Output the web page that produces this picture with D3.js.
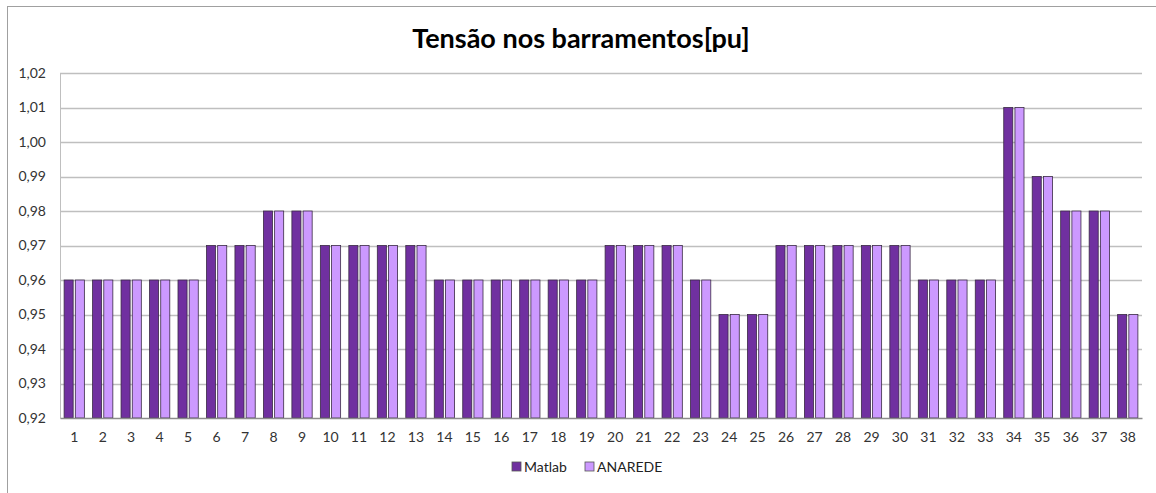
<!DOCTYPE html>
<html>
<head>
<meta charset="utf-8">
<script src="https://cdn.jsdelivr.net/npm/d3@7"></script>
<style>
  body { margin: 0; background: #fff; }
  svg { display: block; font-family: Lato, "Open Sans", sans-serif; }
</style>
</head>
<body>
<div id="graph"></div>
<script>
// Data
const buses = d3.range(1, 39).map(String);
const matlab = [0.96, 0.96, 0.96, 0.96, 0.96, 0.97, 0.97, 0.98, 0.98, 0.97,
  0.97, 0.97, 0.97, 0.96, 0.96, 0.96, 0.96, 0.96, 0.96, 0.97,
  0.97, 0.97, 0.96, 0.95, 0.95, 0.97, 0.97, 0.97, 0.97, 0.97,
  0.96, 0.96, 0.96, 1.01, 0.99, 0.98, 0.98, 0.95];
const anarede = [0.96, 0.96, 0.96, 0.96, 0.96, 0.97, 0.97, 0.98, 0.98, 0.97,
  0.97, 0.97, 0.97, 0.96, 0.96, 0.96, 0.96, 0.96, 0.96, 0.97,
  0.97, 0.97, 0.96, 0.95, 0.95, 0.97, 0.97, 0.97, 0.97, 0.97,
  0.96, 0.96, 0.96, 1.01, 0.99, 0.98, 0.98, 0.95];
const seriesNames = ['Matlab', 'ANAREDE'];
const yTicks = [0.92, 0.93, 0.94, 0.95, 0.96, 0.97, 0.98, 0.99, 1.00, 1.01, 1.02];

const W = 1156, H = 493;
const colors = ['#7030a0', '#cc99ff'];
const plot = { left: 60, right: 1142, top: 73, bottom: 418 };

const svg = d3.select('#graph').append('svg')
  .attr('width', W)
  .attr('height', H);

// Chart frame
svg.append('rect')
  .attr('x', 7.5).attr('y', 6.5)
  .attr('width', 1160).attr('height', 500)
  .attr('fill', '#fff')
  .attr('stroke', '#a0a0a0');

// Title
svg.append('text')
  .attr('x', 581).attr('y', 48)
  .attr('text-anchor', 'middle')
  .attr('font-size', 27)
  .attr('font-weight', 'bold')
  .attr('fill', '#000')
  .text('Tensão nos barramentos[pu]');

// Scales
const x = d3.scaleBand().domain(buses).range([plot.left, plot.right]).paddingInner(0.26).paddingOuter(0.13);
const xs = d3.scaleBand().domain(seriesNames).range([0, x.bandwidth()]).paddingInner(0.12);
const y = d3.scaleLinear().domain([0.92, 1.02]).range([plot.bottom, plot.top]);

// Gridlines
svg.append('g').selectAll('line')
  .data(yTicks.slice(1))
  .join('line')
  .attr('x1', plot.left).attr('x2', plot.right)
  .attr('y1', d => Math.round(y(d)) + 0.5).attr('y2', d => Math.round(y(d)) + 0.5)
  .attr('stroke', '#bfbfbf')
  .attr('stroke-width', 1.3);

// Y axis labels
const yAxis = d3.axisLeft(y).tickValues(yTicks)
  .tickFormat(d => d3.format('.2f')(d).replace('.', ','))
  .tickSize(0).tickPadding(14);
svg.append('g')
  .attr('transform', `translate(${plot.left},0)`)
  .call(yAxis)
  .call(g => g.select('.domain').attr('stroke', '#bfbfbf'))
  .call(g => g.selectAll('text').attr('font-size', 14).attr('fill', '#333').attr('font-family', 'Lato, sans-serif'));

// Bars
const series = [matlab, anarede];
series.forEach((vals, si) => {
  svg.append('g').selectAll('rect')
    .data(vals)
    .join('rect')
    .attr('x', (d, i) => x(buses[i]) + xs(seriesNames[si]) + 0.4)
    .attr('y', d => y(d))
    .attr('width', xs.bandwidth() - 0.8)
    .attr('height', d => y(0.92) - y(d))
    .attr('fill', colors[si])
    .attr('stroke', '#3a2a45')
    .attr('stroke-width', 0.8);
});

// X axis
const xAxis = d3.axisBottom(x).tickSize(0).tickPadding(14);
svg.append('g')
  .attr('transform', `translate(0,${plot.bottom})`)
  .call(xAxis)
  .call(g => g.select('.domain').attr('stroke', '#8c8c8c').attr('stroke-width', 1.3))
  .call(g => g.selectAll('text').attr('font-size', 14).attr('fill', '#333').attr('font-family', 'Lato, sans-serif'));

// Legend
const legend = svg.append('g').attr('transform', 'translate(512,467)');
const legendX = [0, 73];
seriesNames.forEach((name, i) => {
  legend.append('rect')
    .attr('x', legendX[i]).attr('y', -5)
    .attr('width', 9).attr('height', 9)
    .attr('fill', colors[i])
    .attr('stroke', '#555')
    .attr('stroke-width', 0.8);
  legend.append('text')
    .attr('x', legendX[i] + 12).attr('y', 5)
    .attr('font-size', 14)
    .attr('fill', '#222')
    .text(name);
});
</script>
</body>
</html>
